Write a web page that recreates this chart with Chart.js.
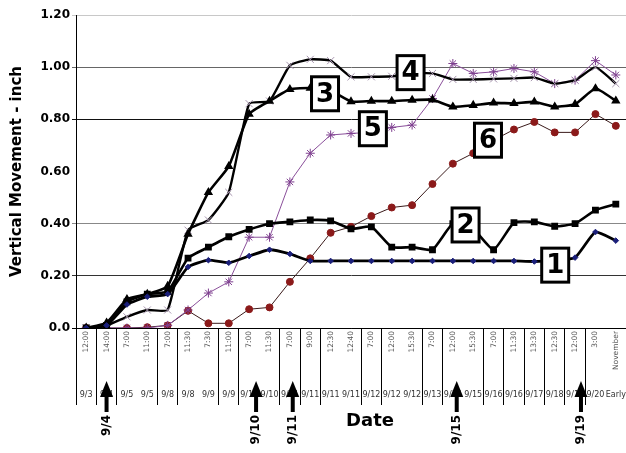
<!DOCTYPE html>
<html>
<head>
<meta charset="utf-8">
<script src="https://cdn.jsdelivr.net/npm/chart.js@4.4.1/dist/chart.umd.min.js"></script>
<style>
  html, body { margin: 0; padding: 0; background: #fff; }
</style>
</head>
<body>
<canvas id="movementChart" width="626" height="453"></canvas>
<script>
/* ---------------- data ---------------- */

const timeLabels = ['12:00', '14:00', '7:00', '11:00', '7:00', '11:30', '7:30', '11:00', '7:00', '11:30',
  '7:00', '9:00', '12:30', '12:40', '7:00', '12:00', '15:30', '7:00', '12:00', '15:30',
  '7:00', '11:30', '13:30', '12:30', '12:00', '3:00', 'November'];

const dateLabels = ['9/3', '9/4', '9/5', '9/5', '9/8', '9/8', '9/9', '9/9', '9/10', '9/10',
  '9/11', '9/11', '9/11', '9/11', '9/12', '9/12', '9/12', '9/13', '9/15', '9/15',
  '9/16', '9/16', '9/17', '9/18', '9/19', '9/20', 'Early'];

// category boundaries where the date groups are split
const dayBreaks = [0, 1, 2, 4, 5, 7, 8, 10, 11, 12, 14, 15, 17, 18, 20, 21, 22, 23, 24, 25];

const yTickLabels = ['0.0', '0.20', '0.40', '0.60', '0.80', '1.00', '1.20'];

const seriesNames = ['1', '2', '3', '4', '5', '6'];

const gauge1 = [0, 0.01, 0.09, 0.12, 0.13, 0.234, 0.26, 0.25, 0.276, 0.30, 0.284, 0.257, 0.257, 0.257,
  0.257, 0.257, 0.257, 0.257, 0.257, 0.257, 0.257, 0.257, 0.255, 0.26, 0.27, 0.368, 0.335];
const gauge2 = [0, 0.01, 0.10, 0.13, 0.14, 0.268, 0.31, 0.35, 0.378, 0.40, 0.407, 0.414, 0.411, 0.38,
  0.388, 0.31, 0.31, 0.30, 0.40, 0.38, 0.30, 0.404, 0.407, 0.39, 0.40, 0.452, 0.475];
const gauge3 = [0, 0.02, 0.11, 0.13, 0.16, 0.36, 0.52, 0.62, 0.82, 0.87, 0.915, 0.92, 0.91, 0.868,
  0.87, 0.87, 0.874, 0.875, 0.848, 0.854, 0.863, 0.861, 0.867, 0.848, 0.858, 0.918, 0.871];
const gauge4 = [0, 0.01, 0.043, 0.069, 0.069, 0.375, 0.414, 0.52, 0.86, 0.87, 1.007, 1.03, 1.025, 0.963,
  0.963, 0.965, 0.975, 0.976, 0.953, 0.953, 0.955, 0.957, 0.96, 0.937, 0.95, 1.0, 0.937];
const gauge5 = [0, 0, 0, 0, 0.01, 0.069, 0.134, 0.177, 0.348, 0.348, 0.56, 0.67, 0.74, 0.746,
  0.75, 0.769, 0.778, 0.88, 1.014, 0.976, 0.982, 0.995, 0.982, 0.937, 0.95, 1.025, 0.97];
const gauge6 = [0, 0, 0, 0.003, 0.01, 0.066, 0.018, 0.018, 0.072, 0.079, 0.177, 0.267, 0.365, 0.388,
  0.429, 0.462, 0.471, 0.552, 0.63, 0.67, 0.72, 0.761, 0.79, 0.75, 0.75, 0.82, 0.775];

const markedDays = ['9/4', '9/10', '9/11', '9/15', '9/19'];

/* ---------------- annotations: number tags, arrows, "Date" ---------------- */

// where each numbered tag sits, in (category, value) units
const tagSpots = [[23, 0.241], [18.6, 0.395], [11.7, 0.898], [15.9, 0.979], [14.05, 0.764], [19.7, 0.72]];
const markedAt = [1, 8.34, 10.14, 18.19, 24.29];

const FONT = '"DejaVu Sans", "Liberation Sans", sans-serif';

const annotations = {
  id: 'annotations',
  afterDatasetsDraw(chart) {
    const { ctx, scales: { x, y } } = chart;
    ctx.save();
    seriesNames.forEach((name, i) => {
      const cx = x.getPixelForValue(tagSpots[i][0]);
      const cy = y.getPixelForValue(tagSpots[i][1]);
      ctx.fillStyle = '#fff';
      ctx.fillRect(cx - 13, cy - 17, 27, 34);
      ctx.lineWidth = 3;
      ctx.strokeStyle = '#000';
      ctx.strokeRect(cx - 13, cy - 17, 27, 34);
      ctx.fillStyle = '#000';
      ctx.font = 'bold 26px ' + FONT;
      ctx.textAlign = 'center';
      ctx.textBaseline = 'middle';
      ctx.fillText(name, cx + 0.5, cy + 1);
    });
    ctx.restore();
  },
  afterDraw(chart) {
    const { ctx, scales: { x } } = chart;
    ctx.save();
    ctx.fillStyle = '#000';
    markedDays.forEach((day, i) => {
      const ax = x.getPixelForValue(markedAt[i]);
      // arrow head + shaft
      ctx.beginPath();
      ctx.moveTo(ax, 381);
      ctx.lineTo(ax + 6.5, 397);
      ctx.lineTo(ax - 6.5, 397);
      ctx.closePath();
      ctx.fill();
      ctx.fillRect(ax - 2, 395, 4, 17);
      // rotated date
      ctx.save();
      ctx.translate(ax, 415);
      ctx.rotate(-Math.PI / 2);
      ctx.font = 'bold 12px ' + FONT;
      ctx.textAlign = 'right';
      ctx.textBaseline = 'middle';
      ctx.fillText(day, 0, 0);
      ctx.restore();
    });
    ctx.font = 'bold 18px ' + FONT;
    ctx.textAlign = 'center';
    ctx.textBaseline = 'middle';
    ctx.fillText('Date', 370, 421);
    ctx.restore();
  }
};

/* ---------------- chart ---------------- */

const yGridColors = ['#000', '#333', '#888', 'rgba(0,0,0,0)', '#111', '#666', '#c8c8c8'];

function lineSet(label, data, extra) {
  return Object.assign({
    label: label,
    data: data,
    xAxisID: 'x',
    borderColor: '#000',
    borderWidth: 2.6,
    tension: 0.15,
    fill: false
  }, extra);
}

const ctx = document.getElementById('movementChart').getContext('2d');
new Chart(ctx, {
  type: 'line',
  data: {
    labels: timeLabels,
    datasets: [
      lineSet(seriesNames[0], gauge1, { borderWidth: 2.8, pointStyle: 'rectRot', pointRadius: 2.8, pointBackgroundColor: '#1b1f7a', pointBorderColor: '#1b1f7a', pointBorderWidth: 1 }),
      lineSet(seriesNames[1], gauge2, { pointStyle: 'rect', pointRadius: 3, pointBackgroundColor: '#000', pointBorderColor: '#000' }),
      lineSet(seriesNames[2], gauge3, { pointStyle: 'triangle', pointRadius: 2.8, pointBackgroundColor: '#000', pointBorderColor: '#000' }),
      lineSet(seriesNames[3], gauge4, { borderWidth: 2.4, pointStyle: 'crossRot', pointRadius: 5, pointBorderColor: '#a593ad', pointBorderWidth: 1 }),
      lineSet(seriesNames[4], gauge5, { borderWidth: 1, borderColor: '#8a4f9a', tension: 0, pointStyle: 'star', pointRadius: 4.5, pointBorderColor: '#7e3f8f', pointBorderWidth: 1 }),
      lineSet(seriesNames[5], gauge6, { borderWidth: 1, borderColor: '#3a1a1a', tension: 0, pointStyle: 'circle', pointRadius: 3.5, pointBackgroundColor: '#8b1a1a', pointBorderColor: '#8b1a1a' })
    ]
  },
  options: {
    responsive: false,
    animation: false,
    layout: { autoPadding: false, padding: { top: 15, right: 0, bottom: 49, left: 0 } },
    plugins: {
      legend: { display: false },
      tooltip: { enabled: false }
    },
    scales: {
      x: {
        type: 'category',
        position: 'bottom',
        offset: true,
        border: { color: '#000', width: 1 },
        grid: {
          offset: true,
          drawOnChartArea: false,
          drawTicks: true,
          tickLength: 77,
          color: '#000',
          lineWidth: c => dayBreaks.includes(c.index) ? 1 : 0
        },
        ticks: {
          autoSkip: false,
          minRotation: 90,
          maxRotation: 90,
          padding: -74,
          color: '#555',
          font: { family: FONT, size: 7.5 }
        },
        afterFit: s => { s.height = 62; s.paddingLeft = 0; s.paddingRight = 0; }
      },
      xd: {
        type: 'category',
        position: 'bottom',
        labels: dateLabels,
        offset: true,
        border: { display: false },
        grid: { display: false, drawTicks: false },
        ticks: {
          autoSkip: false,
          minRotation: 0,
          maxRotation: 0,
          padding: 0,
          color: '#333',
          font: { family: FONT, size: 8 }
        },
        afterFit: s => { s.height = 14; s.paddingLeft = 0; s.paddingRight = 0; }
      },
      y: {
        min: 0,
        max: 1.2,
        border: { color: '#000', width: 1 },
        grid: {
          drawTicks: true,
          tickLength: 4,
          color: c => yGridColors[c.index] || '#000'
        },
        ticks: {
          stepSize: 0.2,
          padding: 2,
          color: '#000',
          font: { family: FONT, size: 12, weight: 'bold' },
          callback: (v, i) => yTickLabels[i]
        },
        title: {
          display: true,
          text: 'Vertical Movement - inch',
          color: '#000',
          font: { family: FONT, size: 15, weight: 'bold' },
          padding: { top: 8, bottom: 0 }
        },
        afterFit: s => { s.width = 76; }
      }
    }
  },
  plugins: [annotations]
});
</script>
</body>
</html>
